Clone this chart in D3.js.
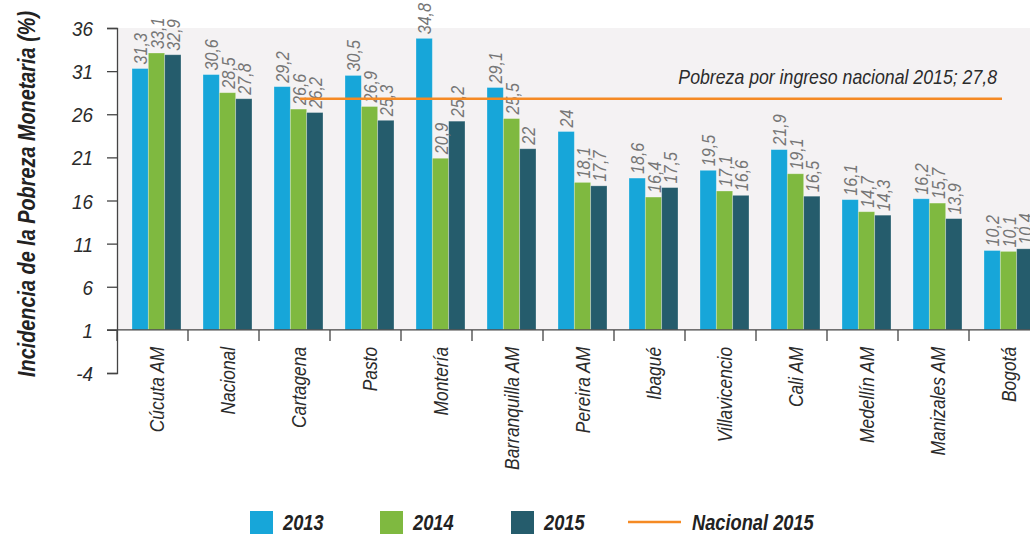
<!DOCTYPE html>
<html>
<head>
<meta charset="utf-8">
<script src="https://cdn.jsdelivr.net/npm/d3@7"></script>
<style>
  body { margin: 0; background: #fff; }
  svg text { font-family: "Liberation Sans", Arial, sans-serif; font-style: italic; }
</style>
</head>
<body>
<div id="chart"></div>
<script>
// data
const ciudades = ["Cúcuta AM", "Nacional", "Cartagena", "Pasto", "Montería", "Barranquilla AM",
  "Pereira AM", "Ibagué", "Villavicencio", "Cali AM", "Medellín AM", "Manizales AM", "Bogotá"];
const anios = ["2013", "2014", "2015"];
const v2013 = [31.3, 30.6, 29.2, 30.5, 34.8, 29.1, 24, 18.6, 19.5, 21.9, 16.1, 16.2, 10.2];
const v2014 = [33.1, 28.5, 26.6, 26.9, 20.9, 25.5, 18.1, 16.4, 17.1, 19.1, 14.7, 15.7, 10.1];
const v2015 = [32.9, 27.8, 26.2, 25.3, 25.2, 22, 17.7, 17.5, 16.6, 16.5, 14.3, 13.9, 10.4];
const yTicks = [-4, 1, 6, 11, 16, 21, 26, 31, 36];
const nacional2015 = 27.8;
const colores = ["#17a6d9", "#7fb940", "#255c6c"];

const series = [v2013, v2014, v2015];
const rows = ciudades.map((c, i) => ({
  ciudad: c,
  vals: anios.map((a, j) => ({ anio: a, v: series[j][i], j }))
}));

const W = 1030, H = 535;
const cond = 0.85; // fake condensed face
const svg = d3.select("#chart").append("svg")
  .attr("width", W).attr("height", H);

const x0 = d3.scaleBand().domain(ciudades).range([117, 1040]);
const x1 = d3.scaleBand().domain(anios).range([15, 64]);
const y = d3.scaleLinear().domain([-4, 36]).range([373, 28]);
const base = 1;

const fmt = v => String(v).replace(".", ",");

// plot background
svg.append("rect")
  .attr("x", 117).attr("y", y(36))
  .attr("width", W - 117).attr("height", y(base) - y(36))
  .attr("fill", "#f4f2f3");

// bars
const grp = svg.selectAll("g.city")
  .data(rows)
  .enter().append("g")
    .attr("transform", d => "translate(" + x0(d.ciudad) + ",0)");

grp.selectAll("rect")
  .data(d => d.vals)
  .enter().append("rect")
    .attr("x", d => x1(d.anio))
    .attr("width", x1.bandwidth())
    .attr("y", d => y(d.v))
    .attr("height", d => y(base) - y(d.v))
    .attr("fill", d => colores[d.j])
    .attr("stroke", "#ffffff")
    .attr("stroke-opacity", 0.35)
    .attr("stroke-width", 0.8);

// value labels
grp.selectAll("text")
  .data(d => d.vals)
  .enter().append("text")
    .attr("transform", d => "translate(" + (x1(d.anio) + x1.bandwidth() / 2 + 7) + "," + (y(d.v) - 4) + ")rotate(-90)scale(" + cond + ",1)")
    .attr("font-size", 19)
    .attr("fill", "#767676")
    .text(d => fmt(d.v));

// y axis
const yAxis = svg.append("g")
  .attr("transform", "translate(117,0)")
  .call(d3.axisLeft(y).tickValues(yTicks).tickFormat(d => String(d)).tickSize(10).tickPadding(14));
yAxis.select(".domain").attr("stroke", "#444").attr("stroke-width", 1.3);
yAxis.selectAll(".tick line").attr("stroke", "#444").attr("stroke-width", 1.3);
yAxis.selectAll(".tick text")
  .attr("font-size", 21)
  .attr("fill", "#2b2b2b")
  .attr("dy", "0.36em")
  .attr("x", null)
  .attr("transform", "translate(-24,0)scale(0.9,1)");

// x axis
const xAxis = svg.append("g")
  .attr("transform", "translate(0," + y(base) + ")")
  .call(d3.axisBottom(x0).tickSize(0));
xAxis.select(".domain").remove();
svg.append("line")
  .attr("x1", 107).attr("x2", W)
  .attr("y1", y(base)).attr("y2", y(base))
  .attr("stroke", "#444").attr("stroke-width", 1.3);
svg.selectAll("line.sep")
  .data(ciudades)
  .enter().append("line")
    .attr("x1", d => x0(d)).attr("x2", d => x0(d))
    .attr("y1", y(base)).attr("y2", y(base) + 11)
    .attr("stroke", "#444").attr("stroke-width", 1.3);
xAxis.selectAll(".tick text")
  .attr("transform", "translate(4,17)rotate(-90)scale(0.87,1)")
  .attr("text-anchor", "end")
  .attr("dy", "0.36em")
  .attr("y", 0)
  .attr("font-size", 20)
  .attr("fill", "#2b2b2b");

// y title
svg.append("text")
  .attr("transform", "translate(35,194)rotate(-90)")
  .attr("text-anchor", "middle")
  .attr("font-size", 24)
  .attr("font-weight", "bold")
  .attr("fill", "#222")
  .attr("textLength", 366)
  .attr("lengthAdjust", "spacingAndGlyphs")
  .text("Incidencia de la Pobreza Monetaria (%)");

// national reference line
svg.append("line")
  .attr("x1", x0("Cartagena") + 41)
  .attr("x2", x0("Bogotá") + 33)
  .attr("y1", y(nacional2015)).attr("y2", y(nacional2015))
  .attr("stroke", "#f58a24").attr("stroke-width", 2.6);
svg.append("text")
  .attr("transform", "translate(997," + (y(nacional2015) - 15) + ")scale(0.885,1)")
  .attr("text-anchor", "end")
  .attr("font-size", 20)
  .attr("fill", "#2b2b2b")
  .text("Pobreza por ingreso nacional 2015; " + fmt(nacional2015));

// legend
const leg = svg.append("g").attr("transform", "translate(0,522)");
const legX = [250, 380, 511];
anios.forEach((a, j) => {
  leg.append("rect")
    .attr("x", legX[j]).attr("y", -11)
    .attr("width", 23).attr("height", 23)
    .attr("fill", colores[j]);
  leg.append("text")
    .attr("transform", "translate(" + (legX[j] + 33) + ",0)scale(0.83,1)")
    .attr("dy", "0.36em")
    .attr("font-size", 22).attr("font-weight", "bold")
    .attr("fill", "#222")
    .text(a);
});
leg.append("line")
  .attr("x1", 628).attr("x2", 681)
  .attr("y1", 0).attr("y2", 0)
  .attr("stroke", "#f58a24").attr("stroke-width", 2.6);
leg.append("text")
  .attr("transform", "translate(692,0)scale(0.83,1)")
  .attr("dy", "0.36em")
  .attr("font-size", 22).attr("font-weight", "bold")
  .attr("fill", "#222")
  .text("Nacional 2015");
</script>
</body>
</html>
